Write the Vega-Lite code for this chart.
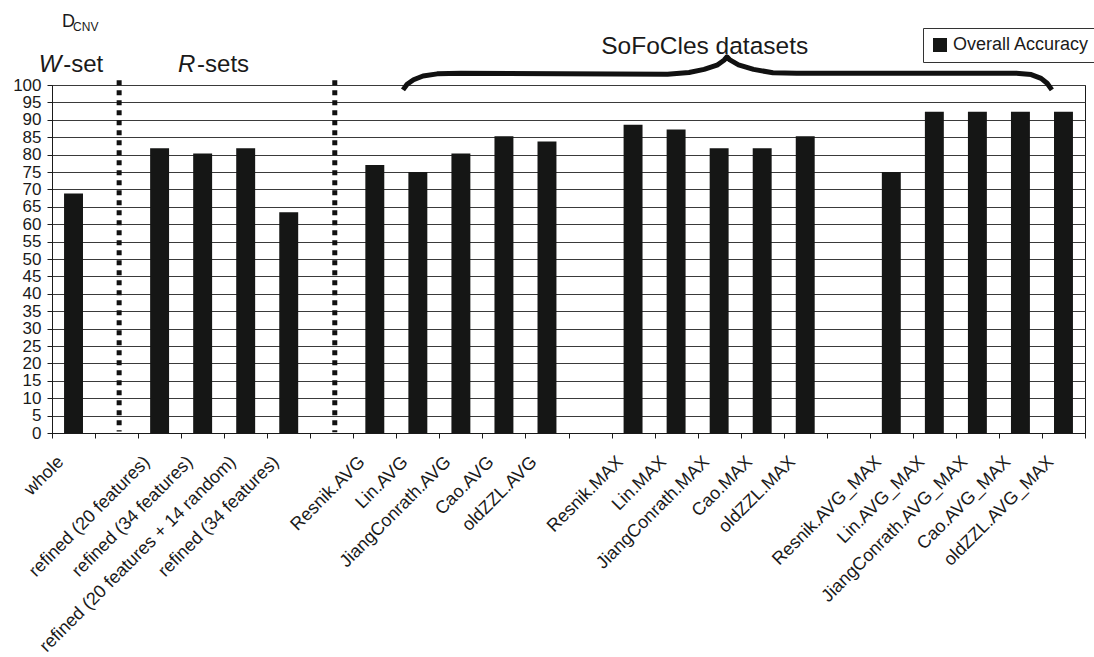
{
  "$schema": "https://vega.github.io/schema/vega-lite/v6.json",
  "width": 1033,
  "height": 348,
  "autosize": {"type": "none"},
  "padding": {"left": 52, "top": 85, "right": 9, "bottom": 224},
  "background": "white",
  "config": {
    "font": "Liberation Sans",
    "view": {"stroke": "#1a1a1a", "strokeWidth": 1},
    "axis": {
      "labelFont": "Liberation Sans",
      "labelColor": "#1a1a1a",
      "domainColor": "#1a1a1a",
      "tickColor": "#1a1a1a"
    },
    "text": {"font": "Liberation Sans", "color": "#1a1a1a"}
  },
  "datasets": {
    "accuracy": [
      {"dataset": "whole", "accuracy": 68.8},
      {"dataset": "refined (20 features)", "accuracy": 81.8},
      {"dataset": "refined (34 features)", "accuracy": 80.3},
      {"dataset": "refined (20 features + 14 random)", "accuracy": 81.8},
      {"dataset": " refined (34 features)", "accuracy": 63.4},
      {"dataset": "Resnik.AVG", "accuracy": 77.0},
      {"dataset": "Lin.AVG", "accuracy": 75.0},
      {"dataset": "JiangConrath.AVG", "accuracy": 80.3},
      {"dataset": "Cao.AVG", "accuracy": 85.3},
      {"dataset": "oldZZL.AVG", "accuracy": 83.8},
      {"dataset": "Resnik.MAX", "accuracy": 88.6},
      {"dataset": "Lin.MAX", "accuracy": 87.2},
      {"dataset": "JiangConrath.MAX", "accuracy": 81.8},
      {"dataset": "Cao.MAX", "accuracy": 81.8},
      {"dataset": "oldZZL.MAX", "accuracy": 85.3},
      {"dataset": "Resnik.AVG_MAX", "accuracy": 75.0},
      {"dataset": "Lin.AVG_MAX", "accuracy": 92.3},
      {"dataset": "JiangConrath.AVG_MAX", "accuracy": 92.3},
      {"dataset": "Cao.AVG_MAX", "accuracy": 92.3},
      {"dataset": "oldZZL.AVG_MAX", "accuracy": 92.3}
    ],
    "separators": [
      {"pos": 1.56, "top": 101.4, "bottom": 0.4},
      {"pos": 6.57, "top": 101.4, "bottom": 0.2}
    ],
    "brace": [
      {"i": 1, "pos": 8.155, "level": 98.6},
      {"i": 2, "pos": 8.25, "level": 100.2},
      {"i": 3, "pos": 8.4, "level": 101.5},
      {"i": 4, "pos": 8.62, "level": 102.6},
      {"i": 5, "pos": 8.95, "level": 103.2},
      {"i": 6, "pos": 9.5, "level": 103.4},
      {"i": 7, "pos": 14.3, "level": 103.1},
      {"i": 8, "pos": 14.8, "level": 103.6},
      {"i": 9, "pos": 15.15, "level": 104.5},
      {"i": 10, "pos": 15.45, "level": 105.7},
      {"i": 11, "pos": 15.62, "level": 107.2},
      {"i": 12, "pos": 15.68, "level": 108.1},
      {"i": 13, "pos": 15.75, "level": 107.2},
      {"i": 14, "pos": 15.95, "level": 105.8},
      {"i": 15, "pos": 16.3, "level": 104.5},
      {"i": 16, "pos": 16.75, "level": 103.5},
      {"i": 17, "pos": 17.3, "level": 103.4},
      {"i": 18, "pos": 22.4, "level": 103.4},
      {"i": 19, "pos": 22.75, "level": 103.0},
      {"i": 20, "pos": 22.98, "level": 101.9},
      {"i": 21, "pos": 23.12, "level": 100.5},
      {"i": 22, "pos": 23.23, "level": 98.6}
    ]
  },
  "layer": [
    {
      "data": {"name": "accuracy"},
      "mark": {"type": "bar", "width": {"band": 0.44}},
      "encoding": {
        "x": {
          "field": "dataset",
          "type": "nominal",
          "title": null,
          "scale": {
            "domain": [
              "whole", " ", "refined (20 features)", "refined (34 features)",
              "refined (20 features + 14 random)", " refined (34 features)", "  ",
              "Resnik.AVG", "Lin.AVG", "JiangConrath.AVG", "Cao.AVG", "oldZZL.AVG", "   ",
              "Resnik.MAX", "Lin.MAX", "JiangConrath.MAX", "Cao.MAX", "oldZZL.MAX", "    ",
              "Resnik.AVG_MAX", "Lin.AVG_MAX", "JiangConrath.AVG_MAX", "Cao.AVG_MAX", "oldZZL.AVG_MAX"
            ],
            "paddingInner": 0,
            "paddingOuter": 0
          },
          "axis": {
            "labelAngle": -45,
            "labelAlign": "right",
            "labelBaseline": "middle",
            "labelFontSize": 18,
            "labelOffset": -13,
            "labelPadding": 21,
            "labelLimit": 400,
            "labelOverlap": false,
            "tickBand": "extent",
            "tickSize": 5,
            "grid": false
          }
        },
        "y": {
          "field": "accuracy",
          "type": "quantitative",
          "title": null,
          "scale": {"domain": [0, 100], "nice": false},
          "axis": {
            "values": [0, 5, 10, 15, 20, 25, 30, 35, 40, 45, 50, 55, 60, 65, 70, 75, 80, 85, 90, 95, 100],
            "grid": true,
            "gridColor": "#3a3a3a",
            "gridWidth": 1,
            "labelFontSize": 17,
            "labelPadding": 6,
            "labelOverlap": false,
            "labelBound": false,
            "tickSize": 5
          }
        },
        "color": {
          "datum": "Overall Accuracy",
          "type": "nominal",
          "scale": {"range": ["#151615"]},
          "legend": {
            "title": null,
            "orient": "none",
            "legendX": 871,
            "legendY": -57,
            "padding": 8,
            "symbolType": "square",
            "symbolSize": 196,
            "symbolStrokeWidth": 0,
            "labelFontSize": 18,
            "labelFont": "Liberation Sans",
            "labelColor": "#1a1a1a",
            "labelOffset": 4,
            "strokeColor": "#333333",
            "fillColor": "white"
          }
        }
      }
    },
    {
      "data": {"name": "separators"},
      "mark": {"type": "rule", "strokeWidth": 5, "strokeDash": [5, 5], "color": "#111111"},
      "encoding": {
        "x": {"field": "pos", "type": "quantitative", "scale": {"domain": [0, 24], "nice": false, "zero": false}, "axis": null},
        "y": {"field": "top", "type": "quantitative", "scale": {"domain": [0, 100], "nice": false}, "axis": null},
        "y2": {"field": "bottom"}
      }
    },
    {
      "data": {"name": "brace"},
      "mark": {"type": "line", "strokeWidth": 5, "color": "#111111", "strokeJoin": "round", "clip": false},
      "encoding": {
        "x": {"field": "pos", "type": "quantitative", "scale": {"domain": [0, 24], "nice": false, "zero": false}, "axis": null},
        "y": {"field": "level", "type": "quantitative", "scale": {"domain": [0, 100], "nice": false}, "axis": null},
        "order": {"field": "i"}
      }
    },
    {
      "data": {"values": [{"label": "D", "pos": 0.232, "level": 116.7}]},
      "mark": {"type": "text", "fontSize": 18, "align": "left", "baseline": "alphabetic"},
      "encoding": {
        "x": {"field": "pos", "type": "quantitative", "scale": {"domain": [0, 24], "nice": false, "zero": false}, "axis": null},
        "y": {"field": "level", "type": "quantitative", "scale": {"domain": [0, 100], "nice": false}, "axis": null},
        "text": {"field": "label"}
      }
    },
    {
      "data": {"values": [{"label": "CNV", "pos": 0.49, "level": 115.6}]},
      "mark": {"type": "text", "fontSize": 12, "align": "left", "baseline": "alphabetic"},
      "encoding": {
        "x": {"field": "pos", "type": "quantitative", "scale": {"domain": [0, 24], "nice": false, "zero": false}, "axis": null},
        "y": {"field": "level", "type": "quantitative", "scale": {"domain": [0, 100], "nice": false}, "axis": null},
        "text": {"field": "label"}
      }
    },
    {
      "data": {"values": [{"label": "W", "pos": 0.22, "level": 103.7}, {"label": "R", "pos": 3.33, "level": 103.7}]},
      "mark": {"type": "text", "fontSize": 24, "fontStyle": "italic", "align": "right", "baseline": "alphabetic"},
      "encoding": {
        "x": {"field": "pos", "type": "quantitative", "scale": {"domain": [0, 24], "nice": false, "zero": false}, "axis": null},
        "y": {"field": "level", "type": "quantitative", "scale": {"domain": [0, 100], "nice": false}, "axis": null},
        "text": {"field": "label"}
      }
    },
    {
      "data": {"values": [{"label": "-set", "pos": 0.26, "level": 103.7}, {"label": "-sets", "pos": 3.37, "level": 103.7}]},
      "mark": {"type": "text", "fontSize": 24, "align": "left", "baseline": "alphabetic"},
      "encoding": {
        "x": {"field": "pos", "type": "quantitative", "scale": {"domain": [0, 24], "nice": false, "zero": false}, "axis": null},
        "y": {"field": "level", "type": "quantitative", "scale": {"domain": [0, 100], "nice": false}, "axis": null},
        "text": {"field": "label"}
      }
    },
    {
      "data": {"values": [{"label": "SoFoCles datasets", "pos": 12.76, "level": 108.9}]},
      "mark": {"type": "text", "fontSize": 24.5, "align": "left", "baseline": "alphabetic"},
      "encoding": {
        "x": {"field": "pos", "type": "quantitative", "scale": {"domain": [0, 24], "nice": false, "zero": false}, "axis": null},
        "y": {"field": "level", "type": "quantitative", "scale": {"domain": [0, 100], "nice": false}, "axis": null},
        "text": {"field": "label"}
      }
    }
  ],
  "resolve": {"scale": {"x": "independent"}, "axis": {"y": "independent"}}
}
